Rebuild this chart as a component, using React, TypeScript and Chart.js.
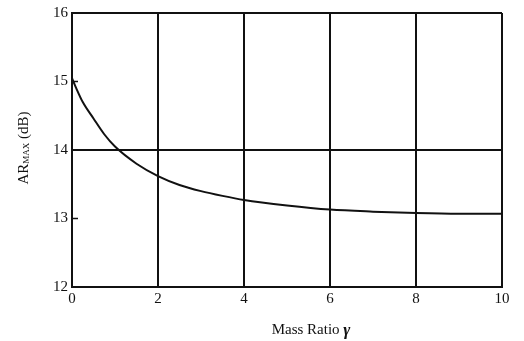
import React, { useEffect, useRef } from "react";
import { Chart, registerables } from "chart.js";

Chart.register(...registerables);

const massRatio = [0, 0.1, 0.25, 0.5, 0.75, 1, 1.5, 2, 2.5, 3, 3.5, 4, 5, 6, 7, 8, 9, 10];
const arMax = [15.05, 14.9, 14.7, 14.46, 14.23, 14.05, 13.8, 13.62, 13.49, 13.4, 13.33, 13.27, 13.19, 13.13, 13.1, 13.08, 13.07, 13.07];
const xTicks = [0, 2, 4, 6, 8, 10];
const yTicks = [12, 13, 14, 15, 16];
const yGridLines = [12, 14, 16];
const yInnerTicks = [13, 15];
const xTitle = "Mass Ratio ";
const xTitleSymbol = "γ";
const yTitleMain = "AR";
const yTitleSub = "MAX";
const yTitleUnit = " (dB)";

const INK = "#111111";
const FONT = "'Liberation Serif', 'DejaVu Serif', serif";

const decorPlugin = {
  id: "decor",
  afterDraw(chart: any) {
    const ctx = chart.ctx;
    const xs = chart.scales.x;
    const ys = chart.scales.y;
    ctx.save();
    ctx.strokeStyle = INK;
    ctx.lineWidth = 1.5;
    yInnerTicks.forEach((v) => {
      const py = ys.getPixelForValue(v);
      ctx.beginPath();
      ctx.moveTo(xs.left, py);
      ctx.lineTo(xs.left + 6, py);
      ctx.stroke();
    });
    ctx.fillStyle = INK;
    ctx.textBaseline = "middle";
    ctx.font = `15px ${FONT}`;
    const w1 = ctx.measureText(xTitle).width;
    ctx.font = `italic bold 17px ${FONT}`;
    const w2 = ctx.measureText(xTitleSymbol).width;
    const cx = 311;
    const startX = cx - (w1 + w2) / 2;
    ctx.font = `15px ${FONT}`;
    ctx.textAlign = "left";
    ctx.fillText(xTitle, startX, 330);
    ctx.font = `italic bold 17px ${FONT}`;
    ctx.fillText(xTitleSymbol, startX + w1, 331);
    ctx.translate(24, 148);
    ctx.rotate(-Math.PI / 2);
    ctx.font = `15px ${FONT}`;
    const a = ctx.measureText(yTitleMain).width;
    ctx.font = `9px ${FONT}`;
    const b = ctx.measureText(yTitleSub).width;
    ctx.font = `15px ${FONT}`;
    const c = ctx.measureText(yTitleUnit).width;
    let x0 = -(a + b + c) / 2;
    ctx.font = `15px ${FONT}`;
    ctx.fillText(yTitleMain, x0, 0);
    x0 += a;
    ctx.font = `9px ${FONT}`;
    ctx.fillText(yTitleSub, x0, 3);
    x0 += b;
    ctx.font = `15px ${FONT}`;
    ctx.fillText(yTitleUnit, x0, 0);
    ctx.restore();
  },
};

export default function App() {
  const ref = useRef<HTMLCanvasElement>(null);
  useEffect(() => {
    if (!ref.current) return;
    const chart = new Chart(ref.current, {
      type: "line",
      data: {
        datasets: [
          {
            data: massRatio.map((x, i) => ({ x, y: arMax[i] })),
            borderColor: INK,
            borderWidth: 2,
            pointRadius: 0,
            cubicInterpolationMode: "monotone",
            fill: false,
          },
        ],
      },
      options: {
        animation: false,
        responsive: false,
        layout: { padding: { top: 11, right: 22, left: 0, bottom: 0 } },
        plugins: { legend: { display: false }, tooltip: { enabled: false } },
        scales: {
          x: {
            type: "linear",
            min: 0,
            max: 10,
            afterBuildTicks: (s: any) => {
              s.ticks = xTicks.map((v) => ({ value: v }));
            },
            afterFit: (s: any) => {
              s.height = 54;
            },
            grid: { color: INK, lineWidth: 2, drawTicks: false },
            border: { color: INK, width: 2 },
            ticks: { color: INK, font: { family: FONT, size: 15 }, padding: 3, maxRotation: 0 },
          },
          y: {
            type: "linear",
            min: 12,
            max: 16,
            afterBuildTicks: (s: any) => {
              s.ticks = yTicks.map((v) => ({ value: v }));
            },
            afterFit: (s: any) => {
              s.width = 72;
            },
            grid: {
              color: (c: any) => (yGridLines.includes(c.tick?.value) ? INK : "rgba(0,0,0,0)"),
              lineWidth: 2,
              drawTicks: false,
            },
            border: { color: INK, width: 2 },
            ticks: { color: INK, font: { family: FONT, size: 15 }, padding: 4 },
          },
        },
      },
      plugins: [decorPlugin],
    } as any);
    return () => chart.destroy();
  }, []);
  return (
    <div style={{ position: "fixed", left: 0, top: 0, width: 524, height: 341, background: "#fff" }}>
      <canvas ref={ref} width={524} height={341} style={{ display: "block" }} />
    </div>
  );
}
